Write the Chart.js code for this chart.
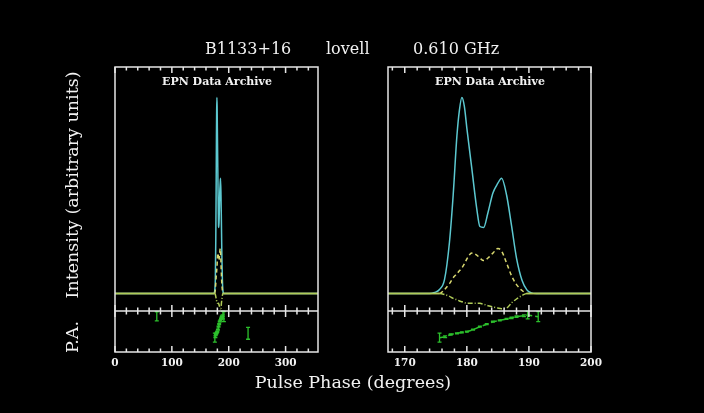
<!DOCTYPE html>
<html>
<head>
<meta charset="utf-8">
<script src="https://cdn.jsdelivr.net/npm/chart.js@4.4.0/dist/chart.umd.min.js"></script>
<style>
  body { margin: 0; background: #000; }
  #wrap { position: relative; width: 704px; height: 413px; background: #000; overflow: hidden;
          font-family: "DejaVu Serif", serif; color: #f2f2f2; }
  canvas { position: absolute; top: 0; }
  #left-chart { left: 0; }
  #right-chart { left: 352px; }
  .txt { position: absolute; white-space: pre; line-height: 1; }
  .title { font-size: 16px; top: 41px; }
  .epn { font-size: 11px; font-weight: bold; top: 76px; transform: translateX(-50%); }
  .ylab { font-size: 17.5px; left: 73px; transform: translate(-50%, -50%) rotate(-90deg); }
</style>
</head>
<body>
<div id="wrap">
  <canvas id="left-chart" width="352" height="413"></canvas>
  <canvas id="right-chart" width="352" height="413"></canvas>
  <div class="txt title" style="left:205px">B1133+16</div>
  <div class="txt title" style="left:326px">lovell</div>
  <div class="txt title" style="left:413px">0.610 GHz</div>
  <div class="txt epn" style="left:217px">EPN Data Archive</div>
  <div class="txt epn" style="left:490px">EPN Data Archive</div>
  <div class="txt ylab" style="top:185px">Intensity (arbitrary units)</div>
  <div class="txt ylab" style="top:337px">P.A.</div>
  <div class="txt" style="left:353px;top:374px;font-size:17.5px;transform:translateX(-50%)">Pulse Phase (degrees)</div>
</div>
<script>
// pulse phase samples (degrees) and the three profiles, normalised to the peak
const phase = [0, 60, 120, 160, 174.0, 174.8, 175.6, 176.4, 177.2, 177.8, 178.4, 178.8, 179.2, 179.6,
  180.0, 180.8, 181.6, 182.1, 182.7, 183.4, 184.2, 185.0, 185.6, 186.4, 187.2, 188.0, 188.9, 189.7,
  190.4, 191.2, 200, 240, 300, 357];
const totalI = [0, 0, 0, 0, 0, 0.005, 0.02, 0.07, 0.26, 0.50, 0.80, 0.93, 0.995, 0.95,
  0.84, 0.635, 0.43, 0.34, 0.335, 0.41, 0.51, 0.56, 0.585, 0.50, 0.345, 0.18, 0.066, 0.017,
  0.003, 0, 0, 0, 0, 0];
const linearL = [0, 0, 0, 0, 0, 0, 0, 0.02, 0.05, 0.08, 0.10, 0.115, 0.13, 0.15,
  0.175, 0.205, 0.195, 0.18, 0.167, 0.18, 0.205, 0.228, 0.215, 0.155, 0.09, 0.045, 0.015, 0,
  0, 0, 0, 0, 0, 0];
const circularV = [0, 0, 0, 0, 0, 0, 0, -0.005, -0.015, -0.025, -0.032, -0.038, -0.042, -0.046,
  -0.05, -0.05, -0.05, -0.05, -0.055, -0.062, -0.068, -0.074, -0.077, -0.074, -0.048, -0.028, -0.01, 0,
  0, 0, 0, 0, 0, 0];

// position angle (degrees) with errors
const paPhase = [73.5, 175.6, 176.5, 177.4, 178.4, 179.2, 180.0, 181.0, 182.1, 183.2, 184.2, 185.3,
  186.4, 187.2, 188.0, 189.2, 189.8, 191.5, 234];
const paValue = [66.7, -27, -23, -13, -8, -4, -1, 8, 21, 32, 43, 49, 55, 60, 65, 69, 72, 65, -8];
const paErr = [20, 20, 4, 3, 2, 2, 2, 2, 2, 2, 2, 2, 2, 3, 3, 4, 17, 22, 26];

// axis ticks
const leftMajor = [0, 100, 200, 300];
const leftMinor = [20, 40, 60, 80, 120, 140, 160, 180, 220, 240, 260, 280, 320, 340];
const rightMajor = [170, 180, 190, 200];
const rightMinor = [168, 172, 174, 176, 178, 182, 184, 186, 188, 192, 194, 196, 198];

const CYAN = '#5cc8d0', YEL = '#d8d870', VCOL = '#b0cc58', GREEN = '#2cc02c', FRAME = '#e6e6e6';

function pts(ys) { return phase.map((p, i) => ({x: p, y: ys[i]})); }
const flat = (dash) => (c) => (c.p0.parsed.y === 0 && c.p1.parsed.y === 0 ? [] : dash);

const framePlugin = {
  id: 'frame',
  afterDatasetsDraw(chart, args, opts) {
    const {ctx, chartArea: a, scales} = chart;
    const x = scales.x, yP = scales.yP;
    const split = yP.top;
    ctx.save();
    // PA error bars
    ctx.beginPath();
    ctx.rect(a.left, a.top, a.width, a.height);
    ctx.clip();
    ctx.strokeStyle = GREEN;
    ctx.lineWidth = 1.3;
    paPhase.forEach((p, i) => {
      const px = x.getPixelForValue(p);
      const y1 = yP.getPixelForValue(paValue[i] - paErr[i]);
      const y2 = yP.getPixelForValue(paValue[i] + paErr[i]);
      ctx.beginPath();
      ctx.moveTo(px, y1); ctx.lineTo(px, y2);
      ctx.moveTo(px - 2, y1); ctx.lineTo(px + 2, y1);
      ctx.moveTo(px - 2, y2); ctx.lineTo(px + 2, y2);
      ctx.stroke();
    });
    ctx.restore();

    ctx.save();
    ctx.strokeStyle = FRAME;
    ctx.lineWidth = 1.5;
    ctx.strokeRect(a.left, a.top, a.width, a.height);
    ctx.beginPath();
    ctx.moveTo(a.left, split); ctx.lineTo(a.right, split);
    const tick = (v, len) => {
      const px = x.getPixelForValue(v);
      ctx.moveTo(px, a.top); ctx.lineTo(px, a.top + len);
      ctx.moveTo(px, a.bottom); ctx.lineTo(px, a.bottom - len);
      ctx.moveTo(px, split - len); ctx.lineTo(px, split + len);
    };
    opts.minor.forEach(v => tick(v, 3.5));
    opts.major.forEach(v => tick(v, 6));
    ctx.stroke();
    ctx.restore();
  }
};

function makeChart(id, xmin, xmax, major, minor, pad) {
  const canvas = document.getElementById(id);
  return new Chart(canvas.getContext('2d'), {
    type: 'line',
    data: {
      datasets: [
        {
          label: 'PA', yAxisID: 'yP',
          data: paPhase.map((p, i) => ({x: p, y: paValue[i]})),
          borderColor: GREEN, borderWidth: 1.5, borderDash: [6, 3], pointRadius: 0,
          segment: { borderColor: c => (c.p1.parsed.x - c.p0.parsed.x > 4 ? 'transparent' : GREEN) }
        },
        {
          label: 'V', yAxisID: 'yI', data: pts(circularV), cubicInterpolationMode: 'monotone',
          borderColor: VCOL, borderWidth: 1.5, pointRadius: 0, borderDash: [5, 2, 1, 2],
          segment: { borderDash: flat([5, 2, 1, 2]) }
        },
        {
          label: 'L', yAxisID: 'yI', data: pts(linearL), cubicInterpolationMode: 'monotone',
          borderColor: YEL, borderWidth: 1.5, pointRadius: 0, borderDash: [4, 3],
          segment: { borderDash: flat([4, 3]) }
        },
        {
          label: 'I', yAxisID: 'yI', data: pts(totalI), cubicInterpolationMode: 'monotone',
          borderColor: CYAN, borderWidth: 1.5, pointRadius: 0
        }
      ]
    },
    options: {
      responsive: false,
      animation: false,
      layout: { padding: pad },
      plugins: { legend: { display: false }, tooltip: { enabled: false }, frame: { major, minor } },
      scales: {
        x: {
          type: 'linear', position: 'bottom', min: xmin, max: xmax,
          grid: { display: false, drawTicks: false }, border: { display: false },
          ticks: { color: '#f2f2f2', padding: 5, maxRotation: 0, autoSkip: false,
                   font: { family: 'DejaVu Serif', size: 10.5, weight: 'bold' } },
          afterBuildTicks: s => { s.ticks = major.map(v => ({value: v})); },
          afterFit: s => { s.height = 24; }
        },
        yP: {
          type: 'linear', position: 'left', stack: 'panel', stackWeight: 41, min: -90, max: 90,
          ticks: { display: false }, grid: { display: false }, border: { display: false },
          afterFit: s => { s.width = 0; }
        },
        yI: {
          type: 'linear', position: 'left', stack: 'panel', stackWeight: 244, min: -0.089, max: 1.15,
          ticks: { display: false }, grid: { display: false }, border: { display: false },
          afterFit: s => { s.width = 0; }
        }
      }
    },
    plugins: [framePlugin]
  });
}

makeChart('left-chart', 0, 357, leftMajor, leftMinor, {left: 115, right: 34, top: 67, bottom: 37});
makeChart('right-chart', 167.3, 200, rightMajor, rightMinor, {left: 36, right: 113, top: 67, bottom: 37});
</script>
</body>
</html>
